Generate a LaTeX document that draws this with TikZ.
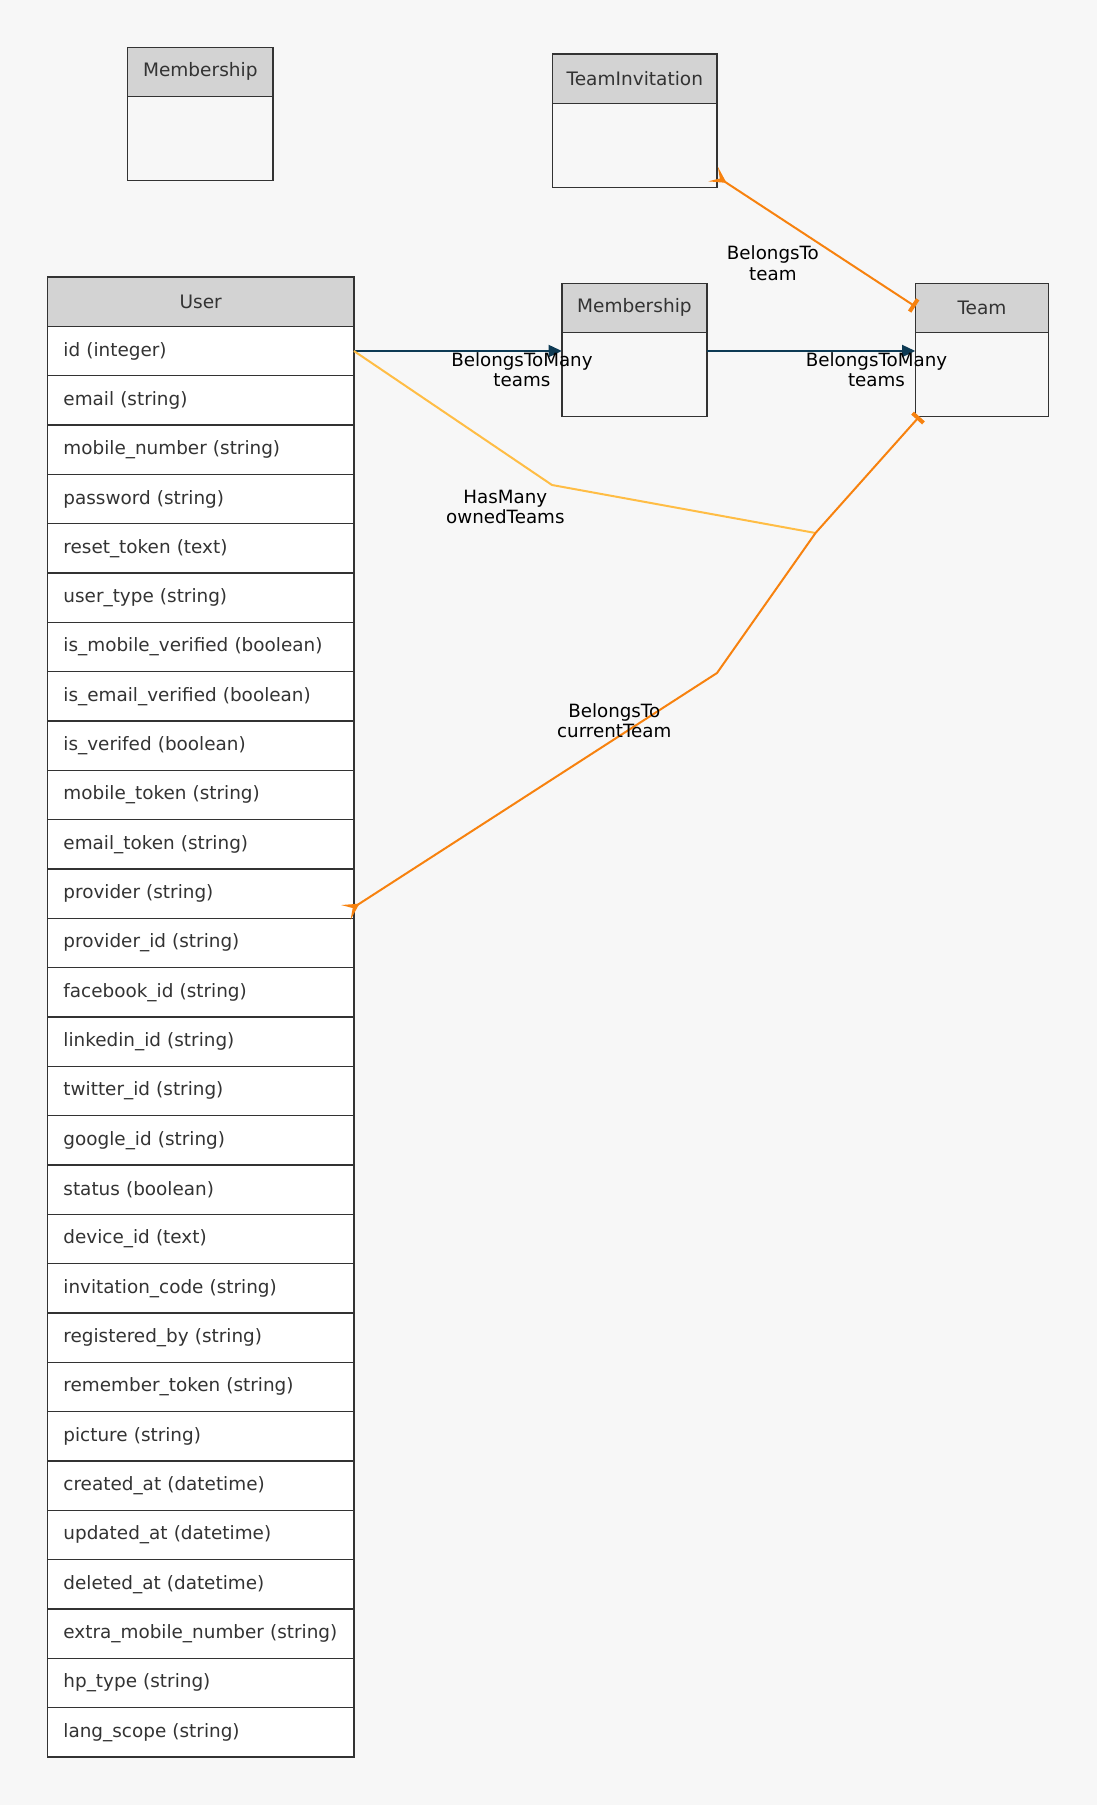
\documentclass[tikz,border=0pt]{standalone}
\usepackage{fontspec}
\setmainfont{DejaVu Sans}
\usepackage{tikz}
\usetikzlibrary{positioning, arrows.meta}

\definecolor{bgcol}{HTML}{F7F7F7}
\definecolor{headcol}{HTML}{D3D3D3}
\definecolor{inkcol}{HTML}{333333}
\definecolor{navycol}{HTML}{0D3A54}
\definecolor{ambercol}{HTML}{FFBD45}
\definecolor{orangecol}{HTML}{F7820F}

\begin{document}
\begin{tikzpicture}[x=0.75pt, y=-0.75pt]
    % Define styles for tables and relations
    \tikzstyle{headbox} = [rectangle, draw=inkcol, line width=1pt, fill=headcol, text=inkcol, font=\fontsize{13.9}{16}\selectfont, outer sep=0pt, minimum height=37pt]
    \tikzstyle{bodybox} = [rectangle, draw=inkcol, line width=1pt, outer sep=0pt, minimum height=63pt]
    \tikzstyle{fieldbox} = [rectangle, draw=inkcol, line width=1pt, fill=white, text=inkcol, font=\fontsize{13.8}{16}\selectfont, outer sep=0pt, minimum height=37pt, text width=205.9pt, inner xsep=12pt, align=left]
    \tikzstyle{rellabel} = [font=\fontsize{13.7}{15.5}\selectfont, align=center, inner sep=0pt]
    \tikzstyle{manyarrow} = [line width=1.5pt, draw=navycol, -{Triangle[length=10pt, width=9pt]}]
    \tikzstyle{hasline} = [line width=1.5pt, draw=ambercol]
    \tikzstyle{belongsline} = [line width=1.5pt, draw=orangecol, {Rectangle[length=3pt, width=11pt]}-{Stealth[reversed, length=12pt, width=13pt, inset=6pt]}]

    \fill[bgcol] (0,0) rectangle (1097,1805);
    \useasboundingbox (0,0) rectangle (1097,1805);

    % Tables
    \node (memhead) [headbox, minimum width=108.8pt, anchor=north] at (200.3,47.2) {Membership};
    \node (membody) [bodybox, minimum width=108.8pt, below=0pt of memhead] {};

    \node (invhead) [headbox, minimum width=123.5pt, anchor=north] at (634.8,54.1) {TeamInvitation};
    \node (invbody) [bodybox, minimum width=123.5pt, below=0pt of invhead] {};

    \node (linkhead) [headbox, minimum width=108.8pt, anchor=north] at (634.4,283.2) {Membership};
    \node (linkbody) [bodybox, minimum width=108.8pt, below=0pt of linkhead] {};

    \node (teamhead) [headbox, minimum width=100pt, anchor=north] at (982,283.2) {Team};
    \node (teambody) [bodybox, minimum width=100pt, below=0pt of teamhead] {};

    \node (userhead) [headbox, minimum width=229.9pt, anchor=north] at (200.7,277) {User};
    \node (f1) [fieldbox, below=0pt of userhead] {id (integer)};
    \node (f2) [fieldbox, below=0pt of f1] {email (string)};
    \node (f3) [fieldbox, below=0pt of f2] {mobile\_number (string)};
    \node (f4) [fieldbox, below=0pt of f3] {password (string)};
    \node (f5) [fieldbox, below=0pt of f4] {reset\_token (text)};
    \node (f6) [fieldbox, below=0pt of f5] {user\_type (string)};
    \node (f7) [fieldbox, below=0pt of f6] {is\_mobile\_verified (boolean)};
    \node (f8) [fieldbox, below=0pt of f7] {is\_email\_verified (boolean)};
    \node (f9) [fieldbox, below=0pt of f8] {is\_verifed (boolean)};
    \node (f10) [fieldbox, below=0pt of f9] {mobile\_token (string)};
    \node (f11) [fieldbox, below=0pt of f10] {email\_token (string)};
    \node (f12) [fieldbox, below=0pt of f11] {provider (string)};
    \node (f13) [fieldbox, below=0pt of f12] {provider\_id (string)};
    \node (f14) [fieldbox, below=0pt of f13] {facebook\_id (string)};
    \node (f15) [fieldbox, below=0pt of f14] {linkedin\_id (string)};
    \node (f16) [fieldbox, below=0pt of f15] {twitter\_id (string)};
    \node (f17) [fieldbox, below=0pt of f16] {google\_id (string)};
    \node (f18) [fieldbox, below=0pt of f17] {status (boolean)};
    \node (f19) [fieldbox, below=0pt of f18] {device\_id (text)};
    \node (f20) [fieldbox, below=0pt of f19] {invitation\_code (string)};
    \node (f21) [fieldbox, below=0pt of f20] {registered\_by (string)};
    \node (f22) [fieldbox, below=0pt of f21] {remember\_token (string)};
    \node (f23) [fieldbox, below=0pt of f22] {picture (string)};
    \node (f24) [fieldbox, below=0pt of f23] {created\_at (datetime)};
    \node (f25) [fieldbox, below=0pt of f24] {updated\_at (datetime)};
    \node (f26) [fieldbox, below=0pt of f25] {deleted\_at (datetime)};
    \node (f27) [fieldbox, below=0pt of f26] {extra\_mobile\_number (string)};
    \node (f28) [fieldbox, below=0pt of f27] {hp\_type (string)};
    \node (f29) [fieldbox, below=0pt of f28] {lang\_scope (string)};

    % Bends
    \coordinate (ownbend) at (552,485);
    \coordinate (meet) at (815.5,533);
    \coordinate (curbend) at (717,673);

    % Relations
    \draw [manyarrow] (f1.east) -- (f1.east -| linkbody.west) node[midway, rellabel, xshift=48pt, yshift=-14pt] {BelongsToMany\\teams};
    \draw [manyarrow] (f1.east -| linkbody.east) -- (f1.east -| teambody.west) node[midway, rellabel, xshift=49pt, yshift=-14pt] {BelongsToMany\\teams};
    \draw [hasline] (f1.east) -- (ownbend) node[at end, rellabel, xshift=-35pt, yshift=-16.5pt] {HasMany\\ownedTeams} -- (meet);
    \draw [belongsline] ([yshift=1pt]teamhead.west) -- ([xshift=-3pt, yshift=10pt]invbody.south east) node[midway, rellabel, xshift=-31pt, yshift=-17pt] {BelongsTo\\team};
    \draw [belongsline] ([xshift=3pt]teambody.south west) -- (meet) -- (curbend) -- ([xshift=-6pt, yshift=-14pt]f12.east) node[pos=0.25, rellabel, xshift=-7.5pt, yshift=9pt] {BelongsTo\\currentTeam};

\end{tikzpicture}
\end{document}
